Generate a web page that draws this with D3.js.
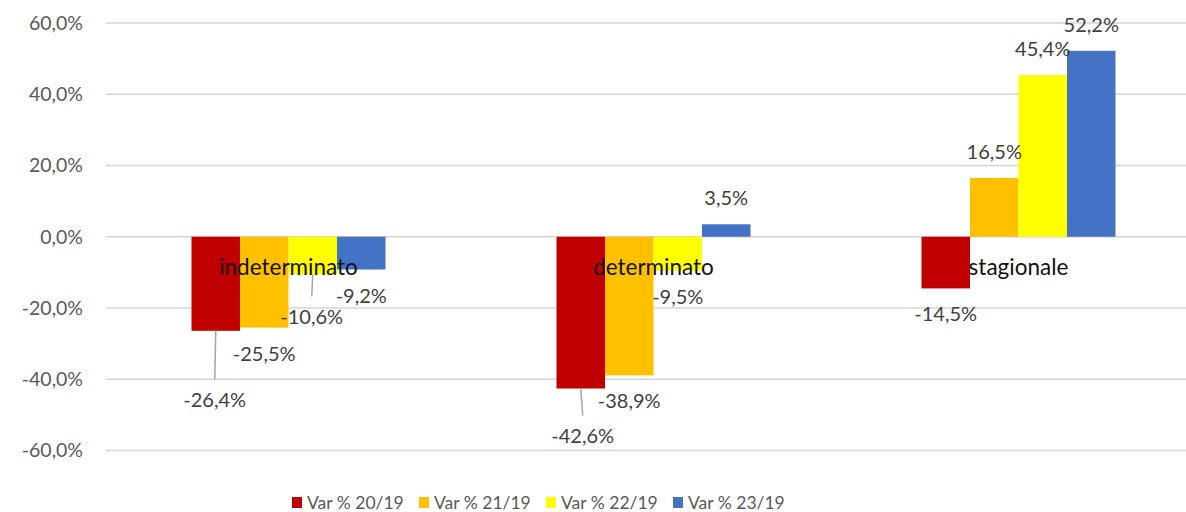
<!DOCTYPE html>
<html>
<head>
<meta charset="utf-8">
<script src="https://cdn.jsdelivr.net/npm/d3@7"></script>
<style>
  body { margin: 0; background: #fff; }
  svg { display: block; font-family: Lato, "Liberation Sans", sans-serif; }
</style>
</head>
<body>
<script>
// data
const categories = ['indeterminato', 'determinato', 'stagionale'];
const series = ['Var % 20/19', 'Var % 21/19', 'Var % 22/19', 'Var % 23/19'];
const var2019_20 = [-26.4, -42.6, -14.5];
const var2019_21 = [-25.5, -38.9, 16.5];
const var2019_22 = [-10.6, -9.5, 45.4];
const var2019_23 = [-9.2, 3.5, 52.2];
const yTicks = [-60, -40, -20, 0, 20, 40, 60];

const values = [var2019_20, var2019_21, var2019_22, var2019_23];
const colors = ['#C00000', '#FFC000', '#FFFF00', '#4472C4'];

// labels that were dragged away from the bar (series, category) -> extra offset
const labelNudges = [
  { s: 0, c: 0, dx: -1, dy: 43, leader: true },
  { s: 2, c: 0, dx: -1, dy: 16, leader: true },
  { s: 0, c: 1, dx: 2, dy: 21, leader: true }
];

const width = 1186;
const height = 512;
const left = 106;
const bandW = 365;

// excel style: comma decimals, plain hyphen
const fmt = (v) => (v < 0 ? '-' : '') + Math.abs(v).toFixed(1).replace('.', ',') + '%';

const svg = d3.select('body').append('svg')
  .attr('width', width)
  .attr('height', height);

const x = d3.scaleBand()
  .domain(categories)
  .range([left, left + bandW * categories.length]);
const xInner = d3.scaleBand()
  .domain(d3.range(series.length))
  .range([0, 194])
  .padding(0);
const innerOffset = (x.bandwidth() - 194) / 2;
const y = d3.scaleLinear().domain([-60, 60]).range([450.5, 23]);

// gridlines
svg.append('g')
  .selectAll('line')
  .data(yTicks)
  .join('line')
  .attr('x1', left)
  .attr('x2', width)
  .attr('y1', (d) => y(d))
  .attr('y2', (d) => y(d))
  .attr('stroke', '#d4d4d4')
  .attr('stroke-width', 1.5);

// y axis labels
const yAxis = d3.axisLeft(y).tickValues(yTicks).tickSize(0).tickPadding(0)
  .tickFormat(fmt);
const gy = svg.append('g').attr('transform', 'translate(83,0)').call(yAxis);
gy.select('.domain').remove();
gy.selectAll('text')
  .attr('font-family', 'Lato, sans-serif')
  .attr('font-size', 19.5)
  .attr('fill', '#595959');

// bars
const flat = [];
values.forEach((arr, s) => arr.forEach((v, c) => flat.push({ s, c, v })));

const barX = (d) => x(categories[d.c]) + innerOffset + xInner(d.s);

svg.append('g')
  .selectAll('rect')
  .data(flat)
  .join('rect')
  .attr('x', barX)
  .attr('width', xInner.bandwidth())
  .attr('y', (d) => y(Math.max(0, d.v)))
  .attr('height', (d) => Math.abs(y(d.v) - y(0)))
  .attr('fill', (d) => colors[d.s]);

// category labels (sit on the zero line, Excel style)
svg.append('g')
  .selectAll('text')
  .data(categories)
  .join('text')
  .attr('x', (d) => x(d) + x.bandwidth() / 2)
  .attr('y', y(0) + 38)
  .attr('text-anchor', 'middle')
  .attr('font-size', 22.5)
  .attr('fill', '#111')
  .text((d) => d);

// data labels
const labelPos = (d) => {
  const n = labelNudges.find((k) => k.s === d.s && k.c === d.c);
  const cx = barX(d) + xInner.bandwidth() / 2;
  const base = d.v < 0 ? y(d.v) + 26 : y(d.v) - 26;
  return {
    x: cx + (n ? n.dx : 0),
    y: base + (n ? n.dy : 0),
    leader: n && n.leader,
    barEnd: y(d.v),
    cx
  };
};

const leaders = flat.filter((d) => labelPos(d).leader);
svg.append('g')
  .selectAll('line')
  .data(leaders)
  .join('line')
  .attr('x1', (d) => labelPos(d).cx)
  .attr('y1', (d) => labelPos(d).barEnd)
  .attr('x2', (d) => labelPos(d).x)
  .attr('y2', (d) => labelPos(d).y - 20)
  .attr('stroke', '#a6a6a6')
  .attr('stroke-width', 1.5);

svg.append('g')
  .selectAll('text')
  .data(flat)
  .join('text')
  .attr('x', (d) => labelPos(d).x)
  .attr('y', (d) => labelPos(d).y)
  .attr('dy', '0.35em')
  .attr('text-anchor', 'middle')
  .attr('font-size', 20)
  .attr('fill', '#404040')
  .text((d) => fmt(d.v));

// legend
const legend = svg.append('g')
  .selectAll('g')
  .data(series)
  .join('g')
  .attr('transform', (d, i) => `translate(${292 + i * 127}, 497)`);
legend.append('rect')
  .attr('width', 10)
  .attr('height', 11)
  .attr('fill', (d, i) => colors[i]);
legend.append('text')
  .attr('x', 15)
  .attr('y', 12)
  .attr('font-size', 17.5)
  .attr('fill', '#595959')
  .text((d) => d);
</script>
</body>
</html>
